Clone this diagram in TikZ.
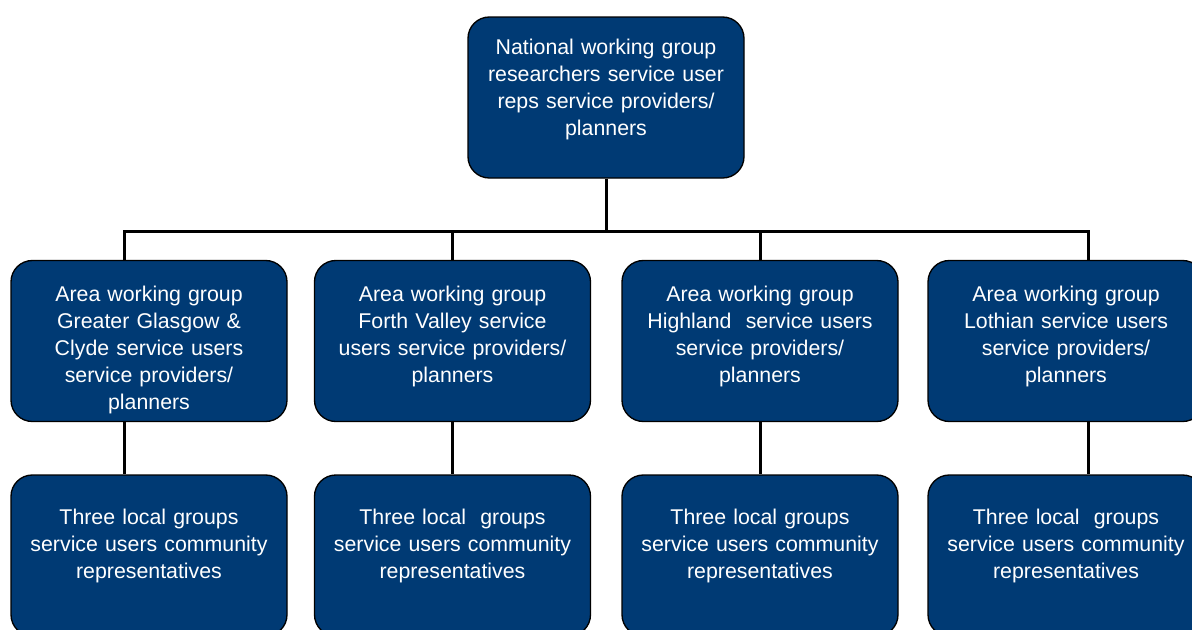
\documentclass[tikz,border=0pt]{standalone}
\usepackage{fontspec}
\setmainfont{Liberation Sans}
\usetikzlibrary{positioning}
\definecolor{groupblue}{RGB}{0,58,116}
\tikzset{
  group/.style={draw=black, line width=1pt, fill=groupblue, rounded corners=16pt, minimum width=207pt, minimum height=120.75pt},
  grouptext/.style={text=white, align=center, text width=200pt, inner sep=0pt, font=\fontsize{16}{20.25}\selectfont},
  link/.style={line width=2.25pt}
}
\begin{document}
\begin{tikzpicture}[x=0.75pt, y=-0.75pt]
    \useasboundingbox (0,0) rectangle (1192,629);

    \node[group] (national) at (606,97.5) {};
    \node[grouptext, below=28.5pt of national.north, anchor=base] (national-text) {National working group\\researchers service user\\reps service providers/\\planners};

    \node[group] (area-glasgow) at (149,341) {};
    \node[group] (area-forth) at (452.5,341) {};
    \node[group] (area-highland) at (760,341) {};
    \node[group] (area-lothian) at (1066,341) {};

    \node[grouptext, below=31.5pt of area-glasgow.north, anchor=base] (area-glasgow-text) {Area working group\\Greater Glasgow \&\\Clyde service users\\service providers/\\planners};
    \node[grouptext, below=31.5pt of area-forth.north, anchor=base] (area-forth-text) {Area working group\\Forth Valley service\\users service providers/\\planners};
    \node[grouptext, below=31.5pt of area-highland.north, anchor=base] (area-highland-text) {Area working group\\Highland\ \ service users\\service providers/\\planners};
    \node[grouptext, below=31.5pt of area-lothian.north, anchor=base] (area-lothian-text) {Area working group\\Lothian service users\\service providers/\\planners};

    \node[group] (local-glasgow) at (149,555.5) {};
    \node[group] (local-forth) at (452.5,555.5) {};
    \node[group] (local-highland) at (760,555.5) {};
    \node[group] (local-lothian) at (1066,555.5) {};

    \node[grouptext, below=37.5pt of local-glasgow.north, anchor=base] (local-glasgow-text) {Three local groups\\service users community\\representatives};
    \node[grouptext, below=37.5pt of local-forth.north, anchor=base] (local-forth-text) {Three local\ \ groups\\service users community\\representatives};
    \node[grouptext, below=37.5pt of local-highland.north, anchor=base] (local-highland-text) {Three local groups\\service users community\\representatives};
    \node[grouptext, below=37.5pt of local-lothian.north, anchor=base] (local-lothian-text) {Three local\ \ groups\\service users community\\representatives};

    % bus line
    \coordinate (bus) at (606,231);
    \coordinate (bus-west) at (124,231);
    \coordinate (bus-east) at (1088,231);

    \draw[link] (national.south) -- (bus);
    \draw[link] (bus-west |- area-glasgow.north) -- (bus-west) -- (bus-east) -- (bus-east |- area-lothian.north);
    \draw[link] (area-forth.north) -- (area-forth.north |- bus);
    \draw[link] (area-highland.north) -- (area-highland.north |- bus);

    \draw[link] (bus-west |- area-glasgow.south) -- (bus-west |- local-glasgow.north);
    \draw[link] (area-forth.south) -- (local-forth.north);
    \draw[link] (area-highland.south) -- (local-highland.north);
    \draw[link] (bus-east |- area-lothian.south) -- (bus-east |- local-lothian.north);
\end{tikzpicture}
\end{document}
